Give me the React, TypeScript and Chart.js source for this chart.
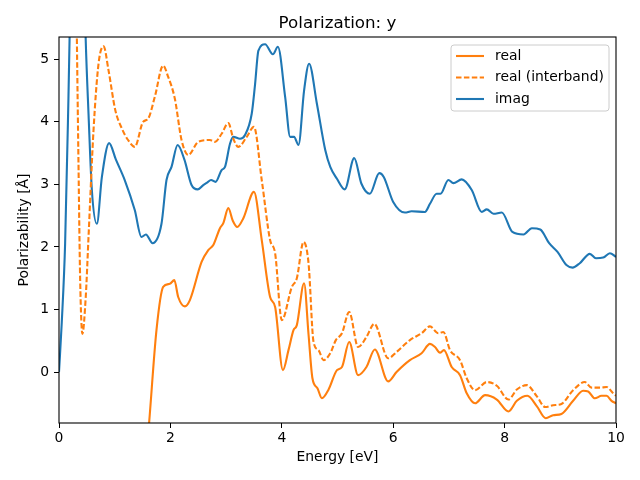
import React, { useEffect, useRef } from "react";
import { Chart, registerables } from "chart.js";

Chart.register(...registerables);

const TITLE = "Polarization: y";
const X_LABEL = "Energy [eV]";
const Y_LABEL = "Polarizability [Å]";
const X_TICKS = [0, 2, 4, 6, 8, 10];
const Y_TICKS = [0, 1, 2, 3, 4, 5];
const SERIES_NAMES = ["real", "real (interband)", "imag"];

const REAL_E = [1.45, 1.62, 1.75, 1.87, 1.99, 2.07, 2.14, 2.26, 2.35, 2.56, 2.68, 2.77, 2.89, 2.95, 3.04, 3.12, 3.2, 3.31, 3.5, 3.64, 3.79, 3.88, 4.02, 4.12, 4.21, 4.27, 4.4, 4.48, 4.55, 4.64, 4.72, 4.84, 4.99, 5.08, 5.21, 5.37, 5.52, 5.67, 5.91, 6.06, 6.3, 6.51, 6.66, 6.75, 6.84, 6.91, 7.05, 7.2, 7.32, 7.47, 7.65, 7.86, 8.07, 8.22, 8.41, 8.58, 8.74, 8.87, 9.02, 9.23, 9.41, 9.5, 9.62, 9.74, 9.83, 9.92, 10.0];
const REAL_V = [-2.6, -0.79, 0.67, 1.36, 1.41, 1.47, 1.2, 1.05, 1.15, 1.76, 1.95, 2.03, 2.3, 2.38, 2.62, 2.42, 2.32, 2.46, 2.88, 2.11, 1.2, 1.04, 0.03, 0.35, 0.67, 0.75, 1.42, 0.6, -0.1, -0.26, -0.42, -0.28, 0.03, 0.08, 0.48, -0.05, 0.08, 0.36, -0.15, 0.0, 0.19, 0.3, 0.45, 0.4, 0.31, 0.35, 0.08, -0.05, -0.34, -0.5, -0.37, -0.44, -0.63, -0.46, -0.38, -0.55, -0.74, -0.69, -0.67, -0.46, -0.3, -0.31, -0.42, -0.38, -0.38, -0.46, -0.5];

const INTER_E = [0, 0.15, 0.25, 0.3, 0.32, 0.35, 0.38, 0.42, 0.48, 0.53, 0.62, 0.71, 0.8, 0.89, 1.01, 1.13, 1.24, 1.36, 1.51, 1.6, 1.72, 1.87, 1.96, 2.08, 2.2, 2.32, 2.5, 2.71, 2.8, 2.92, 3.04, 3.13, 3.22, 3.37, 3.5, 3.64, 3.79, 3.88, 4.0, 4.18, 4.27, 4.39, 4.48, 4.57, 4.66, 4.75, 4.87, 4.97, 5.08, 5.21, 5.37, 5.52, 5.66, 5.91, 6.06, 6.3, 6.51, 6.66, 6.81, 6.9, 7.02, 7.2, 7.32, 7.47, 7.68, 7.86, 8.07, 8.22, 8.4, 8.58, 8.73, 8.87, 9.02, 9.23, 9.44, 9.56, 9.71, 9.83, 9.94, 10.0];
const INTER_V = [7.0, 8.5, 9.0, 7.0, 5.4, 3.33, 1.47, 0.61, 1.2, 2.16, 3.87, 4.93, 5.21, 4.82, 4.19, 3.89, 3.71, 3.6, 4.0, 4.05, 4.4, 4.9, 4.72, 4.37, 3.71, 3.47, 3.68, 3.71, 3.68, 3.81, 3.98, 3.73, 3.6, 3.76, 3.92, 3.07, 2.11, 1.9, 0.83, 1.36, 1.5, 2.08, 1.74, 0.48, 0.35, 0.19, 0.3, 0.51, 0.62, 0.96, 0.4, 0.56, 0.77, 0.22, 0.32, 0.51, 0.62, 0.73, 0.62, 0.64, 0.35, 0.19, -0.1, -0.29, -0.16, -0.22, -0.44, -0.28, -0.21, -0.39, -0.56, -0.53, -0.51, -0.29, -0.16, -0.25, -0.25, -0.24, -0.33, -0.38];

const IMAG_E = [0, 0.05, 0.11, 0.17, 0.25, 0.33, 0.42, 0.48, 0.53, 0.59, 0.68, 0.77, 0.9, 1.02, 1.18, 1.36, 1.48, 1.56, 1.68, 1.84, 1.93, 2.02, 2.13, 2.25, 2.38, 2.49, 2.59, 2.66, 2.73, 2.81, 2.92, 2.98, 3.07, 3.13, 3.25, 3.34, 3.46, 3.52, 3.58, 3.7, 3.84, 3.93, 4.06, 4.15, 4.22, 4.3, 4.4, 4.49, 4.63, 4.78, 4.87, 4.99, 5.13, 5.3, 5.43, 5.58, 5.75, 5.83, 6.0, 6.21, 6.33, 6.57, 6.66, 6.78, 6.85, 6.99, 7.08, 7.23, 7.41, 7.59, 7.68, 7.8, 7.95, 8.14, 8.34, 8.49, 8.64, 8.8, 8.95, 9.11, 9.22, 9.35, 9.53, 9.64, 9.77, 9.89, 10.0];
const IMAG_V = [0, 0.8, 2.06, 4.4, 8.0, 9.5, 7.5, 5.3, 4.13, 2.91, 2.37, 3.12, 3.66, 3.4, 3.07, 2.59, 2.16, 2.2, 2.06, 2.37, 3.07, 3.28, 3.63, 3.4, 2.99, 2.92, 2.99, 3.03, 3.07, 3.04, 3.23, 3.28, 3.65, 3.76, 3.73, 3.79, 4.13, 4.6, 5.14, 5.24, 5.08, 5.2, 4.4, 3.76, 3.76, 3.63, 4.5, 4.93, 4.29, 3.55, 3.28, 3.09, 2.92, 3.42, 3.01, 2.85, 3.18, 3.12, 2.72, 2.55, 2.57, 2.56, 2.69, 2.85, 2.85, 3.07, 3.02, 3.08, 2.91, 2.56, 2.6, 2.53, 2.55, 2.24, 2.2, 2.3, 2.28, 2.06, 1.92, 1.71, 1.67, 1.74, 1.89, 1.82, 1.83, 1.9, 1.84];

const ORANGE = "#ff7f0e";
const BLUE = "#1f77b4";
const FONT = "'DejaVu Sans', sans-serif";

const toPts = (xs: number[], ys: number[]) => xs.map((x, i) => ({ x, y: ys[i] }));

const overlayPlugin = {
  id: "mplOverlay",
  afterDraw(chart: any) {
    const { ctx, chartArea } = chart;
    const { left, right, top, bottom } = chartArea;
    ctx.save();
    // frame
    ctx.strokeStyle = "#000";
    ctx.lineWidth = 1.1;
    ctx.strokeRect(left, top, right - left, bottom - top);
    // title
    ctx.fillStyle = "#000";
    ctx.font = `16.7px ${FONT}`;
    ctx.textAlign = "center";
    ctx.textBaseline = "alphabetic";
    ctx.fillText(TITLE, (left + right) / 2, 28);
    // legend
    const bx = 451, by = 45, bw = 158, bh = 66, r = 3;
    ctx.beginPath();
    ctx.moveTo(bx + r, by);
    ctx.lineTo(bx + bw - r, by);
    ctx.quadraticCurveTo(bx + bw, by, bx + bw, by + r);
    ctx.lineTo(bx + bw, by + bh - r);
    ctx.quadraticCurveTo(bx + bw, by + bh, bx + bw - r, by + bh);
    ctx.lineTo(bx + r, by + bh);
    ctx.quadraticCurveTo(bx, by + bh, bx, by + bh - r);
    ctx.lineTo(bx, by + r);
    ctx.quadraticCurveTo(bx, by, bx + r, by);
    ctx.closePath();
    ctx.fillStyle = "rgba(255,255,255,0.8)";
    ctx.fill();
    ctx.strokeStyle = "#cccccc";
    ctx.lineWidth = 1;
    ctx.stroke();
    const rows = [56, 77.5, 99];
    const colors = [ORANGE, ORANGE, BLUE];
    const dashes = [[], [5.5, 2.4], []];
    ctx.font = `13.9px ${FONT}`;
    ctx.textAlign = "left";
    ctx.textBaseline = "middle";
    rows.forEach((yy, i) => {
      ctx.beginPath();
      ctx.setLineDash(dashes[i]);
      ctx.strokeStyle = colors[i];
      ctx.lineWidth = 2.1;
      ctx.moveTo(456, yy);
      ctx.lineTo(484, yy);
      ctx.stroke();
      ctx.setLineDash([]);
      ctx.fillStyle = "#000";
      ctx.fillText(SERIES_NAMES[i], 495, yy);
    });
    ctx.restore();
  },
};

export default function App() {
  const ref = useRef<HTMLCanvasElement | null>(null);
  useEffect(() => {
    if (!ref.current) return;
    const tickFont = { family: FONT, size: 13.9 };
    const gridOpts = {
      display: true,
      drawOnChartArea: false,
      drawTicks: true,
      tickLength: 5,
      color: "#000",
      lineWidth: 1,
    };
    const line = (label: string, data: any[], color: string, dash: number[]) => ({
      label,
      data,
      borderColor: color,
      backgroundColor: color,
      borderWidth: 2.1,
      borderDash: dash,
      pointRadius: 0,
      fill: false,
      cubicInterpolationMode: "monotone" as const,
      clip: 0,
    });
    const chart = new Chart(ref.current, {
      type: "line",
      data: {
        datasets: [
          line(SERIES_NAMES[0], toPts(REAL_E, REAL_V), ORANGE, []),
          line(SERIES_NAMES[1], toPts(INTER_E, INTER_V), ORANGE, [5.5, 2.4]),
          line(SERIES_NAMES[2], toPts(IMAG_E, IMAG_V), BLUE, []),
        ],
      },
      options: {
        animation: false,
        responsive: false,
        maintainAspectRatio: false,
        devicePixelRatio: 1,
        layout: { padding: { top: 37, right: 24, left: 0, bottom: 0 } },
        plugins: {
          legend: { display: false },
          title: { display: false },
          tooltip: { enabled: false },
        },
        scales: {
          x: {
            type: "linear",
            min: 0,
            max: 10,
            afterBuildTicks: (s: any) => {
              s.ticks = X_TICKS.map((v) => ({ value: v }));
            },
            afterFit: (s: any) => {
              s.height = 57;
            },
            grid: gridOpts,
            border: { display: false },
            ticks: { color: "#000", font: tickFont, padding: 2, maxRotation: 0, autoSkip: false },
            title: {
              display: true,
              text: X_LABEL,
              color: "#000",
              font: tickFont,
              padding: { top: 0, bottom: 14.5 },
            },
          },
          y: {
            type: "linear",
            min: -0.815,
            max: 5.357,
            afterBuildTicks: (s: any) => {
              s.ticks = Y_TICKS.map((v) => ({ value: v }));
            },
            afterFit: (s: any) => {
              s.width = 59;
            },
            grid: gridOpts,
            border: { display: false },
            ticks: { color: "#000", font: tickFont, padding: 5, autoSkip: false },
            title: {
              display: true,
              text: Y_LABEL,
              color: "#000",
              font: tickFont,
              padding: { top: 16, bottom: 0 },
            },
          },
        },
      },
      plugins: [overlayPlugin],
    } as any);
    return () => chart.destroy();
  }, []);
  return (
    <div style={{ position: "absolute", left: 0, top: 0, width: 640, height: 480, background: "#fff" }}>
      <canvas ref={ref} width={640} height={480} style={{ width: 640, height: 480, display: "block" }} />
    </div>
  );
}
